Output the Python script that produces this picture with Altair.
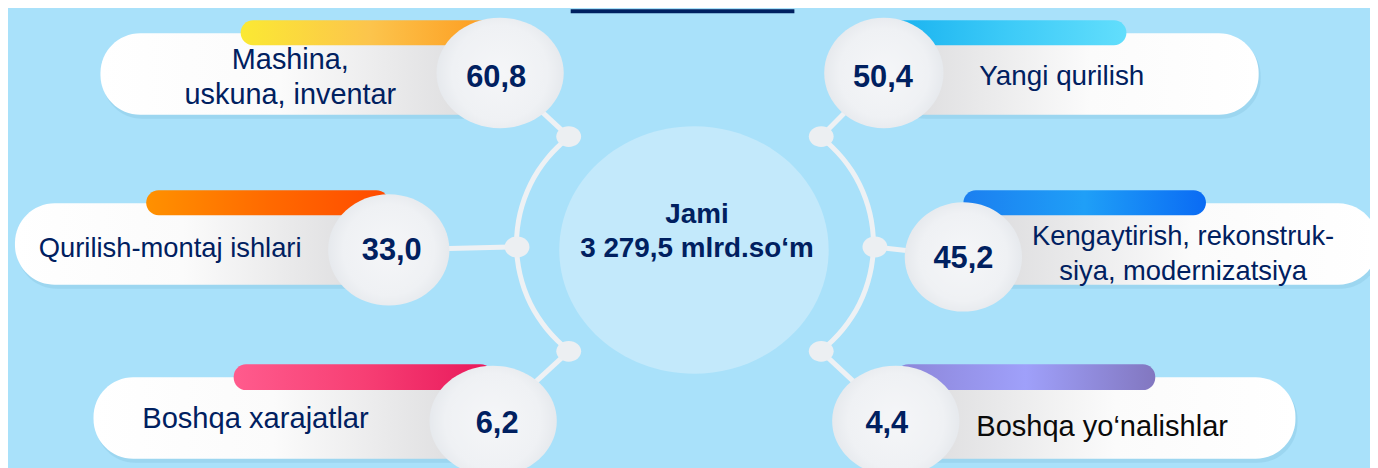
import altair as alt
import pandas as pd

# ---------------- data ----------------
categories = [
    "Mashina,\nuskuna, inventar",
    "Qurilish-montaj ishlari",
    "Boshqa xarajatlar",
    "Yangi qurilish",
    "Kengaytirish, rekonstruk-\nsiya, modernizatsiya",
    "Boshqa yo‘nalishlar",
]
values = [60.8, 33.0, 6.2, 50.4, 45.2, 4.4]
total_title = "Jami"
total_value = "3 279,5 mlrd.so‘m"

# ---------------- layout (reference pixel coordinates) ----------------
sides = ["left", "left", "left", "right", "right", "right"]
bubble_x = [503, 391, 496, 889, 969, 901]
bubble_y = [72, 250, 422, 72, 257, 422]
bubble_w = [128, 122, 128, 120, 118, 128]
bubble_h = [111, 112, 111, 111, 110, 111]
pill_outer = [101, 15, 94, 1266, 1386, 1303]
pill_top = [32, 203, 378, 32, 203, 378]
pill_bottom = [114, 285, 460, 114, 285, 460]
bar_outer = [242, 147, 235, 1133, 1213, 1162]
bar_top = [19, 190, 365, 19, 190, 365]
bar_bottom = [44, 215, 391, 44, 215, 391]
bar_stops = [
    ["#fbe933", "#fcc44c", "#fd981c"],
    ["#ff9100", "#ff6a00", "#ff4a00"],
    ["#ff5b8d", "#f73f74", "#e8175a"],
    ["#16b0ef", "#3ccaf7", "#62defc"],
    ["#1b7ff0", "#1f9ff7", "#0a6bf4"],
    ["#8c85d8", "#9fa0fa", "#8277c0"],
]
label_x = [292, 39, 143, 985, 1190, 982]
label_align = ["center", "left", "left", "left", "center", "left"]
label_base = [68, 257, 429, 84, 245, 437]
label_size = [29, 27.5, 29.3, 28, 27.5, 29.2]
label_color = ["#002060"] * 5 + ["#0a0a0a"]
value_x = [499, 394, 500, 888, 969, 892]
value_base = [86, 260, 434, 86, 268, 434]
line_gap = 35

hub_x, hub_y, hub_w, hub_h = 698, 250, 271, 249
arc_cx = [655, 743]
arc_cy = [244, 244]
arc_theta = [(3.796, 5.629), (0.6545, 2.487)]
dot_x = [572, 520, 572, 826, 880, 826]
dot_y = [136, 247, 352, 136, 247, 352]

NAVY = "#002060"
BG = "#a9e1fa"
LINK = "#eef1f4"
FONT = "Liberation Sans"

X = alt.Scale(domain=[8, 1378], nice=False, zero=False)
Y = alt.Scale(domain=[8, 468], nice=False, zero=False, reverse=True)


def ellipse_path(w, h):
    r = h / w
    return f"M-1,0A1,{r:.4f} 0 1,1 1,0A1,{r:.4f} 0 1,1 -1,0Z"


def xq(f):
    return alt.X(f, type="quantitative", scale=X, axis=None)


def yq(f):
    return alt.Y(f, type="quantitative", scale=Y, axis=None)


layers = []

# top navy line
top_df = pd.DataFrame({"x": [574], "x2": [799], "y": [8], "y2": [12]})
layers.append(alt.Chart(top_df).mark_rect(color=NAVY).encode(
    x=xq("x"), x2="x2", y=yq("y"), y2="y2"))

# central hub
hub_df = pd.DataFrame({"x": [hub_x], "y": [hub_y], "shape": [ellipse_path(hub_w, hub_h)],
                       "size": [hub_w ** 2]})
layers.append(alt.Chart(hub_df).mark_point(filled=True, opacity=1, color="#c3e9fb", strokeWidth=0).encode(
    x=xq("x"), y=yq("y"), shape=alt.Shape("shape:N", scale=None), size=alt.Size("size:Q", scale=None)))

# spokes (dot -> bubble centre)
spoke_df = pd.DataFrame({"x": dot_x, "y": dot_y, "x2": bubble_x, "y2": bubble_y})
layers.append(alt.Chart(spoke_df).mark_rule(color=LINK, strokeWidth=5).encode(
    x=xq("x"), y=yq("y"), x2="x2", y2="y2"))

# arcs
for i in range(2):
    adf = pd.DataFrame({"x": [arc_cx[i]], "y": [arc_cy[i]]})
    layers.append(alt.Chart(adf).mark_arc(
        radius=138, radius2=133, theta=arc_theta[i][0], theta2=arc_theta[i][1], color=LINK
    ).encode(x=xq("x"), y=yq("y")))

# dots
dot_df = pd.DataFrame({"x": dot_x, "y": dot_y, "shape": [ellipse_path(25, 21)] * 6, "size": [25 ** 2] * 6})
layers.append(alt.Chart(dot_df).mark_point(filled=True, opacity=1, color="#eceff2", strokeWidth=0).encode(
    x=xq("x"), y=yq("y"), shape=alt.Shape("shape:N", scale=None), size=alt.Size("size:Q", scale=None)))

# pills, bars
for i in range(6):
    left = sides[i] == "left"
    x0 = pill_outer[i] if left else bubble_x[i]
    x1 = bubble_x[i] if left else pill_outer[i]
    # soft shadow
    sdf = pd.DataFrame({"x": [x0 + 2], "x2": [x1 + 2], "y": [pill_top[i] + 3], "y2": [pill_bottom[i] + 4]})
    layers.append(alt.Chart(sdf).mark_rect(cornerRadius=40, color="#7fbedc", opacity=0.3).encode(
        x=xq("x"), x2="x2", y=yq("y"), y2="y2"))
    stops = ([alt.GradientStop(offset=0, color="#ffffff"), alt.GradientStop(offset=0.45, color="#fbfbfb"),
              alt.GradientStop(offset=1, color="#d9d9db")] if left else
             [alt.GradientStop(offset=0, color="#d9d9db"), alt.GradientStop(offset=0.55, color="#fbfbfb"),
              alt.GradientStop(offset=1, color="#ffffff")])
    pdf = pd.DataFrame({"x": [x0], "x2": [x1], "y": [pill_top[i]], "y2": [pill_bottom[i]]})
    layers.append(alt.Chart(pdf).mark_rect(
        cornerRadius=40,
        fill=alt.LinearGradient(gradient="linear", stops=stops, x1=0, x2=1, y1=0, y2=0),
    ).encode(x=xq("x"), x2="x2", y=yq("y"), y2="y2"))
    # bar
    b0 = bar_outer[i] if left else bubble_x[i]
    b1 = bubble_x[i] if left else bar_outer[i]
    bs = bar_stops[i]
    bdf = pd.DataFrame({"x": [b0], "x2": [b1], "y": [bar_top[i]], "y2": [bar_bottom[i]]})
    layers.append(alt.Chart(bdf).mark_rect(
        cornerRadius=12.5,
        fill=alt.LinearGradient(gradient="linear", x1=0, x2=1, y1=0, y2=0, stops=[
            alt.GradientStop(offset=0, color=bs[0]),
            alt.GradientStop(offset=0.5, color=bs[1]),
            alt.GradientStop(offset=1, color=bs[2])]),
    ).encode(x=xq("x"), x2="x2", y=yq("y"), y2="y2"))

# bubbles
bub_df = pd.DataFrame({
    "x": bubble_x, "y": bubble_y,
    "shape": [ellipse_path(w, h) for w, h in zip(bubble_w, bubble_h)],
    "size": [w ** 2 for w in bubble_w],
})
layers.append(alt.Chart(bub_df).mark_point(
    filled=True, opacity=1, strokeWidth=0,
    fill=alt.RadialGradient(gradient="radial", stops=[
        alt.GradientStop(offset=0, color="#f5f6f8"),
        alt.GradientStop(offset=0.75, color="#eff1f4"),
        alt.GradientStop(offset=1, color="#e6e9ed")]),
).encode(x=xq("x"), y=yq("y"), shape=alt.Shape("shape:N", scale=None),
         size=alt.Size("size:Q", scale=None)))

# label texts (one row per line)
rows = []
for i, lab in enumerate(categories):
    for k, line in enumerate(lab.split("\n")):
        rows.append({"text": line, "x": label_x[i], "y": label_base[i] + k * line_gap,
                     "align": label_align[i], "color": label_color[i], "size": label_size[i]})
lab_df = pd.DataFrame(rows)
for al in ["left", "center"]:
    sub = lab_df[lab_df["align"] == al]
    layers.append(alt.Chart(sub).mark_text(
        align=al, baseline="alphabetic", font=FONT
    ).encode(x=xq("x"), y=yq("y"), text="text:N", color=alt.Color("color:N", scale=None),
             size=alt.Size("size:Q", scale=None)))

# value texts
val_df = pd.DataFrame({"text": [f"{v:.1f}".replace(".", ",") for v in values],
                       "x": value_x, "y": value_base})
layers.append(alt.Chart(val_df).mark_text(
    align="center", baseline="alphabetic", font=FONT, fontSize=31, fontWeight="bold", color=NAVY
).encode(x=xq("x"), y=yq("y"), text="text:N"))

# centre text
ctr_df = pd.DataFrame({"text": [total_title, total_value], "x": [701, 701], "y": [223, 257]})
layers.append(alt.Chart(ctr_df).mark_text(
    align="center", baseline="alphabetic", font=FONT, fontSize=28, fontWeight="bold", color=NAVY
).encode(x=xq("x"), y=yq("y"), text="text:N"))

chart = alt.layer(*layers).properties(
    width=1370, height=460, padding=0, autosize=alt.AutoSizeParams(type="none"),
    background=BG,
).configure_view(stroke=None, fill=BG)

chart.save("out.html", embed_options={"renderer": "svg", "actions": False})
